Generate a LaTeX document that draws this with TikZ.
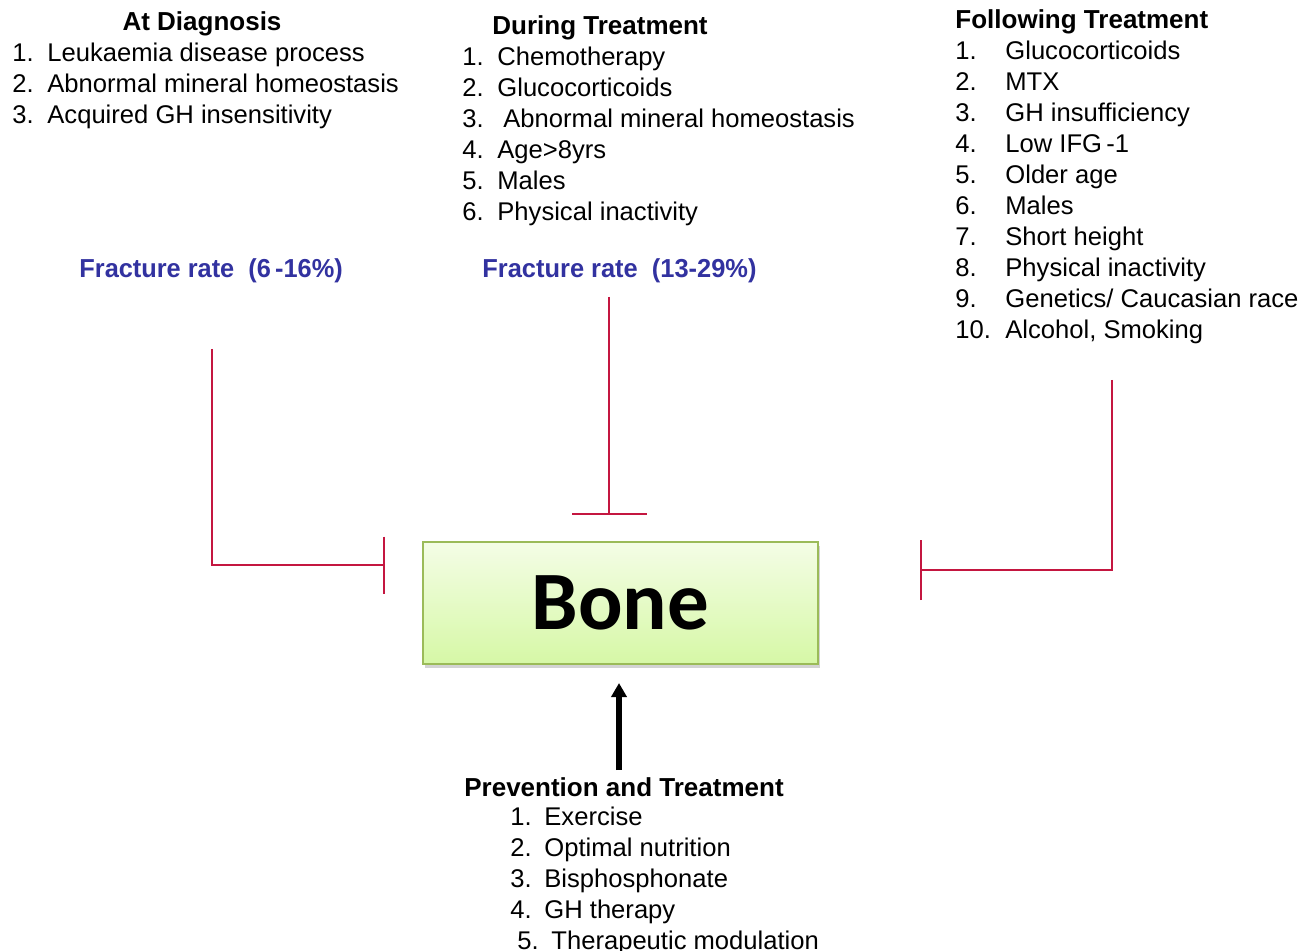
\documentclass[tikz,border=0pt]{standalone}
\usepackage{fontspec}
\setmainfont{Liberation Sans}
\newfontfamily\calibri{Carlito}
\usetikzlibrary{arrows.meta,shadows}
\definecolor{inhred}{RGB}{196,22,64}
\definecolor{fracblue}{RGB}{50,50,160}
\definecolor{boxborder}{RGB}{155,187,89}
\definecolor{boxtop}{RGB}{244,253,230}
\definecolor{boxbot}{RGB}{214,248,166}
\tikzset{
  lst/.style={anchor=base west, inner sep=0pt, font=\fontsize{12.8}{15.5}\selectfont},
  headc/.style={anchor=base, inner sep=0pt, font=\fontsize{13}{15.5}\selectfont\bfseries},
  headl/.style={anchor=base west, inner sep=0pt, font=\fontsize{13}{15.5}\selectfont\bfseries},
  frac/.style={anchor=base west, inner sep=0pt, text=fracblue, font=\fontsize{13}{15.5}\selectfont\bfseries},
  bonebox/.style={draw=boxborder, line width=1.1pt, top color=boxtop, bottom color=boxbot,
    minimum width=197.5pt, minimum height=61pt, inner sep=0pt,
    drop shadow={shadow xshift=1pt, shadow yshift=-2pt, opacity=0.35},
    font=\calibri\bfseries\fontsize{41.5}{45}\selectfont},
  inh/.style={draw=inhred, line width=1pt, -{Bar[width=#1]}},
  prevarrow/.style={draw=black, line width=2.6pt, -{Triangle[width=7.5pt,length=7pt]}}
}
\begin{document}
\begin{tikzpicture}[x=0.5pt,y=-0.5pt]
\useasboundingbox (0,0) rectangle (1310,951);

% At Diagnosis
\node[headc] (diaghead) at (202,31) {At Diagnosis};
\node[lst] (diaglist) at (12,62) {\begin{tabular}[t]{@{}p{17.5pt}@{}l@{}}
1.&Leukaemia disease process\\
2.&Abnormal mineral homeostasis\\
3.&Acquired GH insensitivity
\end{tabular}};

% During Treatment
\node[headc] (durhead) at (600,35) {During Treatment};
\node[lst] (durlist) at (462,66) {\begin{tabular}[t]{@{}p{17.5pt}@{}l@{}}
1.&Chemotherapy\\
2.&Glucocorticoids\\
3.&\hspace{3pt}Abnormal mineral homeostasis\\
4.&Age>8yrs\\
5.&Males\\
6.&Physical inactivity
\end{tabular}};

% Following Treatment
\node[headl] (folhead) at (955,29) {Following Treatment};
\node[lst] (follist) at (955,60) {\begin{tabular}[t]{@{}p{25pt}@{}l@{}}
1.&Glucocorticoids\\
2.&MTX\\
3.&GH insufficiency\\
4.&Low IFG\,-1\\
5.&Older age\\
6.&Males\\
7.&Short height\\
8.&Physical inactivity\\
9.&Genetics/ Caucasian race\\
10.&Alcohol, Smoking
\end{tabular}};

% Fracture rates
\node[frac] (frac1) at (79,278) {\scalebox{0.975}[1]{Fracture rate\ \ (6\,-16\%)}};
\node[frac] (frac2) at (482,278) {\scalebox{0.978}[1]{Fracture rate\ \ (13-29\%)}};

% Bone
\node[bonebox] (bone) at (620.5,603) {Bone};

% Prevention and Treatment
\node[headc] (prevhead) at (624,796) {Prevention and Treatment};
\node[lst] (prevlist) at (510,825) {\begin{tabular}[t]{@{}p{17pt}@{}l@{}}
1.&Exercise\\
2.&Optimal nutrition\\
3.&Bisphosphonate\\
4.&GH therapy\\
\hspace{3.5pt}5.&\hspace{3.5pt}Therapeutic modulation
\end{tabular}};

% connectors
\coordinate (l0) at (212,349);
\coordinate (lT) at (385,565);
\coordinate (m0) at (609,297);
\coordinate (mT) at (609,515);
\coordinate (r0) at (1112,380);
\coordinate (rT) at (920,570);
\coordinate (a0) at (619,770);
\coordinate (aT) at (619,683);

\draw[inh=28.5pt] (l0) |- (lT);
\draw[inh=37.5pt] (m0) -- (mT);
\draw[inh=30pt] (r0) |- (rT);
\draw[prevarrow] (a0) -- (aT);
\end{tikzpicture}
\end{document}
